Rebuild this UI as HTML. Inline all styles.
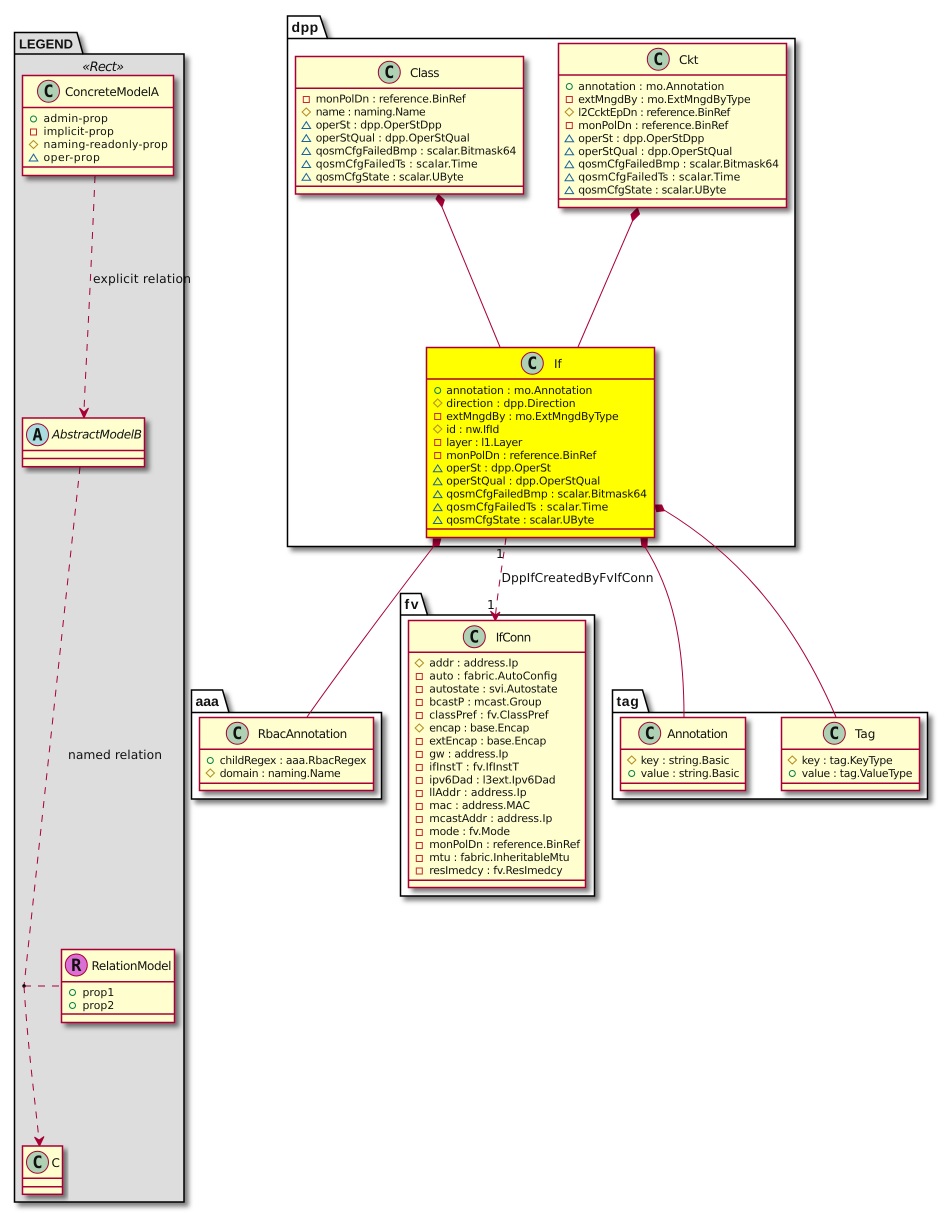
<!DOCTYPE html>
<html><head><meta charset="utf-8"><style>
html,body{margin:0;padding:0;background:#fff}
svg{display:block}
text{font-family:"DejaVu Sans","Liberation Sans",sans-serif;fill:#111;text-rendering:geometricPrecision}
.a{font-size:10.8px}
.n{font-size:12px}
.l{font-size:12.3px}
.p{font-family:"Liberation Sans",sans-serif;font-size:14px;font-weight:bold}
.sp{font-family:"DejaVu Sans Mono","Liberation Mono",monospace;font-weight:bold;font-size:17px;text-anchor:middle}
.c{fill:#FEFECE;stroke:#A80036;stroke-width:1.5}
.y{fill:#FFFF00;stroke:#A80036;stroke-width:1.5}
.dv{stroke:#A80036;stroke-width:1.5;fill:none}
.k{fill:#fff;stroke:#000;stroke-width:1.5}
.kg{fill:#DDDDDD;stroke:#000;stroke-width:1.5}
.cir{fill:#ADD1B2;stroke:#A80036;stroke-width:1}
.ln{fill:none;stroke:#A80036;stroke-width:1}
.ds{stroke-dasharray:7,7}
.hd{fill:#A80036;stroke:#A80036;stroke-width:1}
</style></head><body>
<svg xmlns="http://www.w3.org/2000/svg" width="948" height="1213" viewBox="0 0 948 1213">
<defs>
<filter id="sh" x="-10%" y="-10%" width="125%" height="125%"><feDropShadow dx="4" dy="4" stdDeviation="2.5" flood-color="#000" flood-opacity="0.5"/></filter>
<g id="o"><circle r="3" fill="none" stroke="#038048" stroke-width="1"/></g>
<g id="s"><rect x="-3" y="-3" width="6" height="6" fill="none" stroke="#C82930" stroke-width="1"/></g>
<g id="d"><polygon points="0,-4 4.2,0 0,4 -4.2,0" fill="none" stroke="#B38D22" stroke-width="1"/></g>
<g id="t"><polygon points="0,-3.8 4.3,3 -4.3,3" fill="none" stroke="#1963A0" stroke-width="1"/></g>
</defs>

<!-- packages -->
<path class="kg" filter="url(#sh)" d="M14.5,54 V32.5 H77 L83,54 H184 V1202 H14.5 Z"/>
<line x1="14.5" y1="54" x2="83" y2="54" stroke="#000" stroke-width="1.5"/>
<text class="p" x="19" y="48.5" style="font-size:13px" textLength="54">LEGEND</text>
<path class="k" filter="url(#sh)" d="M287.5,38.5 V16 H320 L327.5,38.5 H795 V546.5 H287.5 Z"/>
<line x1="287.5" y1="38.5" x2="327.5" y2="38.5" stroke="#000" stroke-width="1.5"/>
<text class="p" x="291.5" y="32" textLength="26.7">dpp</text>
<path class="k" filter="url(#sh)" d="M400.5,615 V593.5 H421 L427.5,615 H594.5 V896 H400.5 Z"/>
<line x1="400.5" y1="615" x2="427.5" y2="615" stroke="#000" stroke-width="1.5"/>
<text class="p" x="404.5" y="609" textLength="14">fv</text>
<path class="k" filter="url(#sh)" d="M191.5,712.5 V690 H222.5 L229,712.5 H381.5 V799 H191.5 Z"/>
<line x1="191.5" y1="712.5" x2="229" y2="712.5" stroke="#000" stroke-width="1.5"/>
<text class="p" x="195.5" y="706" textLength="23.3">aaa</text>
<path class="k" filter="url(#sh)" d="M612.5,712.5 V690 H642.5 L649,712.5 H927.5 V799 H612.5 Z"/>
<line x1="612.5" y1="712.5" x2="649" y2="712.5" stroke="#000" stroke-width="1.5"/>
<text class="p" x="616.5" y="706" textLength="22.3">tag</text>

<text x="82.3" y="71" style="font-size:13px;font-style:italic" textLength="41.7">«Rect»</text>

<!-- connectors -->
<path class="ln ds" d="M95,176 C89,320 85,380 84,412"/>
<polygon class="hd" points="79.5,408 84,418 88.5,408 84,412"/>
<text class="l" x="93" y="283" textLength="98">explicit relation</text>
<path class="ln ds" d="M80,467 L24,986"/>
<text class="l" x="68" y="759" textLength="94">named relation</text>
<path class="ln ds" d="M24,986 L61,986"/>
<circle cx="24" cy="986" r="1.7" fill="#000"/>
<path class="ln ds" d="M24,986 C28,1050 35,1100 39,1140"/>
<polygon class="hd" points="34.5,1137 39.5,1146 44,1136.5 39.2,1140"/>

<polygon class="hd" points="438.3,194.5 444.3,200 442,207 436,199"/>
<path class="ln" d="M442,207 L500,347"/>
<polygon class="hd" points="637.5,208 639.5,214 632.5,221 631,214.5"/>
<path class="ln" d="M632.5,221 L578,347"/>
<polygon class="hd" points="433.3,539 440.7,539 439,545.7 433,546"/>
<path class="ln" d="M434,546 C400,590 340,670 307,717"/>
<polygon class="hd" points="641,538 647.3,538 647,546.5 644,547.5 641.7,545"/>
<path class="ln" d="M645,547 C672,590 684,640 684,717"/>
<polygon class="hd" points="655,505 661.7,505 664.3,510.7 656.7,511.7"/>
<path class="ln" d="M664,510 C730,550 790,610 836,717"/>
<path class="ln ds" d="M506,538 C503,560 498,590 495.5,615"/>
<polygon class="hd" points="490.5,611 495.3,620.5 500,612 495.5,615"/>
<text class="l" x="496" y="558">1</text>
<text class="l" x="487" y="609">1</text>
<text class="l" x="501.5" y="582" textLength="152">DppIfCreatedByFvIfConn</text>

<!-- ConcreteModelA -->
<rect class="c" filter="url(#sh)" x="22.5" y="75.5" width="151" height="100"/>
<line class="dv" x1="22.5" y1="107.5" x2="173.5" y2="107.5"/><line class="dv" x1="22.5" y1="167" x2="173.5" y2="167"/>
<circle class="cir" cx="48.5" cy="91.3" r="11"/><text class="sp" x="48.5" y="97">C</text>
<text class="n" x="65" y="96" textLength="94">ConcreteModelA</text>
<use href="#o" x="33.5" y="119"/><text class="a" x="43.5" y="122" textLength="64.3">admin-prop</text>
<use href="#s" x="33.5" y="132"/><text class="a" x="43.5" y="135" textLength="70.3">implicit-prop</text>
<use href="#d" x="33.5" y="144.5"/><text class="a" x="43.5" y="148" textLength="124.3">naming-readonly-prop</text>
<use href="#t" x="33.5" y="158"/><text class="a" x="43.5" y="161" textLength="56.3">oper-prop</text>

<!-- AbstractModelB -->
<rect class="c" filter="url(#sh)" x="22.5" y="418" width="122" height="48.7"/>
<line class="dv" x1="22.5" y1="450.5" x2="144.5" y2="450.5"/><line class="dv" x1="22.5" y1="458.5" x2="144.5" y2="458.5"/>
<circle cx="37.5" cy="434.7" r="11" fill="#A9DCDF" stroke="#A80036"/><text class="sp" x="37.5" y="440.5">A</text>
<text class="n" x="52" y="438.5" style="font-style:italic" textLength="90">AbstractModelB</text>

<!-- RelationModel -->
<rect class="c" filter="url(#sh)" x="61.5" y="949.5" width="113" height="73"/>
<line class="dv" x1="61.5" y1="981.7" x2="174.5" y2="981.7"/><line class="dv" x1="61.5" y1="1014" x2="174.5" y2="1014"/>
<circle cx="76.3" cy="965" r="11" fill="#DA70D6" stroke="#A80036"/><text class="sp" x="76.3" y="971">R</text>
<text class="n" x="91.5" y="970" textLength="80">RelationModel</text>
<use href="#o" x="72.5" y="992.5"/><text class="a" x="82.5" y="996" textLength="31.7">prop1</text>
<use href="#o" x="72.5" y="1005.5"/><text class="a" x="82.5" y="1009" textLength="31.7">prop2</text>

<!-- C -->
<rect class="c" filter="url(#sh)" x="22.5" y="1146" width="40" height="48.3"/>
<line class="dv" x1="22.5" y1="1178.3" x2="62.5" y2="1178.3"/><line class="dv" x1="22.5" y1="1186.7" x2="62.5" y2="1186.7"/>
<circle class="cir" cx="37.5" cy="1162.3" r="11"/><text class="sp" x="37.5" y="1168">C</text>
<text class="n" x="51.5" y="1167">C</text>

<!-- Class -->
<rect class="c" filter="url(#sh)" x="295.5" y="56.5" width="228" height="137.5"/>
<line class="dv" x1="295.5" y1="88.3" x2="523.5" y2="88.3"/><line class="dv" x1="295.5" y1="186.3" x2="523.5" y2="186.3"/>
<circle class="cir" cx="389.3" cy="72.3" r="11"/><text class="sp" x="389.3" y="78">C</text>
<text class="n" x="410" y="77" textLength="29.5">Class</text>
<use href="#s" x="306.3" y="99.5"/><text class="a" x="315.7" y="102.7" textLength="150">monPolDn : reference.BinRef</text>
<use href="#d" x="306.3" y="112"/><text class="a" x="315.7" y="115.6" textLength="110">name : naming.Name</text>
<use href="#t" x="306.3" y="125.5"/><text class="a" x="315.7" y="128.5" textLength="126">operSt : dpp.OperStDpp</text>
<use href="#t" x="306.3" y="138.5"/><text class="a" x="315.7" y="141.5" textLength="154">operStQual : dpp.OperStQual</text>
<use href="#t" x="306.3" y="151.5"/><text class="a" x="315.7" y="154.4" textLength="200.7">qosmCfgFailedBmp : scalar.Bitmask64</text>
<use href="#t" x="306.3" y="164.5"/><text class="a" x="315.7" y="167.4" textLength="162">qosmCfgFailedTs : scalar.Time</text>
<use href="#t" x="306.3" y="177.3"/><text class="a" x="315.7" y="180.3" textLength="148">qosmCfgState : scalar.UByte</text>

<!-- Ckt -->
<rect class="c" filter="url(#sh)" x="558.5" y="43.5" width="228" height="164"/>
<line class="dv" x1="558.5" y1="75" x2="786.5" y2="75"/><line class="dv" x1="558.5" y1="199" x2="786.5" y2="199"/>
<circle class="cir" cx="658.3" cy="59.3" r="11"/><text class="sp" x="658.3" y="65">C</text>
<text class="n" x="679" y="64" textLength="19.5">Ckt</text>
<use href="#o" x="569.3" y="86.5"/><text class="a" x="578.3" y="90" textLength="146">annotation : mo.Annotation</text>
<use href="#s" x="569.3" y="99.5"/><text class="a" x="578.3" y="103" textLength="172.3">extMngdBy : mo.ExtMngdByType</text>
<use href="#d" x="569.3" y="112"/><text class="a" x="578.3" y="115.9" textLength="152">l2CcktEpDn : reference.BinRef</text>
<use href="#s" x="569.3" y="125.5"/><text class="a" x="578.3" y="128.9" textLength="150">monPolDn : reference.BinRef</text>
<use href="#t" x="569.3" y="138.8"/><text class="a" x="578.3" y="141.8" textLength="126">operSt : dpp.OperStDpp</text>
<use href="#t" x="569.3" y="151.8"/><text class="a" x="578.3" y="154.8" textLength="154">operStQual : dpp.OperStQual</text>
<use href="#t" x="569.3" y="164.7"/><text class="a" x="578.3" y="167.7" textLength="200.7">qosmCfgFailedBmp : scalar.Bitmask64</text>
<use href="#t" x="569.3" y="177.7"/><text class="a" x="578.3" y="180.7" textLength="162">qosmCfgFailedTs : scalar.Time</text>
<use href="#t" x="569.3" y="190.6"/><text class="a" x="578.3" y="193.6" textLength="148">qosmCfgState : scalar.UByte</text>

<!-- If -->
<rect class="y" filter="url(#sh)" x="426.5" y="347.5" width="228" height="190"/>
<line class="dv" x1="426.5" y1="379" x2="654.5" y2="379"/><line class="dv" x1="426.5" y1="529" x2="654.5" y2="529"/>
<circle class="cir" cx="532.3" cy="363.3" r="11"/><text class="sp" x="532.3" y="369">C</text>
<text class="n" x="554" y="368">If</text>
<use href="#o" x="437.7" y="390.5"/><text class="a" x="446.3" y="394" textLength="146">annotation : mo.Annotation</text>
<use href="#d" x="437.7" y="403"/><text class="a" x="446.3" y="407" textLength="129.3">direction : dpp.Direction</text>
<use href="#s" x="437.7" y="416.5"/><text class="a" x="446.3" y="419.9" textLength="172.3">extMngdBy : mo.ExtMngdByType</text>
<use href="#d" x="437.7" y="429"/><text class="a" x="446.3" y="432.9" textLength="53">id : nw.IfId</text>
<use href="#s" x="437.7" y="442.5"/><text class="a" x="446.3" y="445.8" textLength="76">layer : l1.Layer</text>
<use href="#s" x="437.7" y="455.5"/><text class="a" x="446.3" y="458.8" textLength="150">monPolDn : reference.BinRef</text>
<use href="#t" x="437.7" y="468.7"/><text class="a" x="446.3" y="471.7" textLength="104.7">operSt : dpp.OperSt</text>
<use href="#t" x="437.7" y="481.7"/><text class="a" x="446.3" y="484.7" textLength="154">operStQual : dpp.OperStQual</text>
<use href="#t" x="437.7" y="494.6"/><text class="a" x="446.3" y="497.6" textLength="200.7">qosmCfgFailedBmp : scalar.Bitmask64</text>
<use href="#t" x="437.7" y="507.6"/><text class="a" x="446.3" y="510.6" textLength="162">qosmCfgFailedTs : scalar.Time</text>
<use href="#t" x="437.7" y="520.5"/><text class="a" x="446.3" y="523.5" textLength="148">qosmCfgState : scalar.UByte</text>

<!-- IfConn -->
<rect class="c" filter="url(#sh)" x="408.5" y="620.5" width="177" height="267"/>
<line class="dv" x1="408.5" y1="652.3" x2="585.5" y2="652.3"/><line class="dv" x1="408.5" y1="880.3" x2="585.5" y2="880.3"/>
<circle class="cir" cx="474.3" cy="636.7" r="11"/><text class="sp" x="474.3" y="642.5">C</text>
<text class="n" x="495.7" y="641.5" textLength="35.5">IfConn</text>
<use href="#d" x="419.3" y="663"/><text class="a" x="429.3" y="666.7" textLength="89">addr : address.Ip</text>
<use href="#s" x="419.3" y="676.5"/><text class="a" x="429.3" y="679.7" textLength="128">auto : fabric.AutoConfig</text>
<use href="#s" x="419.3" y="689.5"/><text class="a" x="429.3" y="692.6" textLength="128.3">autostate : svi.Autostate</text>
<use href="#s" x="419.3" y="702.5"/><text class="a" x="429.3" y="705.6" textLength="112.3">bcastP : mcast.Group</text>
<use href="#s" x="419.3" y="715.5"/><text class="a" x="429.3" y="718.5" textLength="119.3">classPref : fv.ClassPref</text>
<use href="#d" x="419.3" y="728"/><text class="a" x="429.3" y="731.5" textLength="100">encap : base.Encap</text>
<use href="#s" x="419.3" y="741.5"/><text class="a" x="429.3" y="744.4" textLength="117">extEncap : base.Encap</text>
<use href="#s" x="419.3" y="754.5"/><text class="a" x="429.3" y="757.4" textLength="79">gw : address.Ip</text>
<use href="#s" x="419.3" y="767.5"/><text class="a" x="429.3" y="770.3" textLength="89.7">ifInstT : fv.IfInstT</text>
<use href="#s" x="419.3" y="780.5"/><text class="a" x="429.3" y="783.3" textLength="126.3">ipv6Dad : l3ext.Ipv6Dad</text>
<use href="#s" x="419.3" y="793.5"/><text class="a" x="429.3" y="796.2" textLength="97.3">llAddr : address.Ip</text>
<use href="#s" x="419.3" y="806.5"/><text class="a" x="429.3" y="809.2" textLength="100.7">mac : address.MAC</text>
<use href="#s" x="419.3" y="819.5"/><text class="a" x="429.3" y="822.1" textLength="123">mcastAddr : address.Ip</text>
<use href="#s" x="419.3" y="832.5"/><text class="a" x="429.3" y="835.1" textLength="80.7">mode : fv.Mode</text>
<use href="#s" x="419.3" y="845.5"/><text class="a" x="429.3" y="848" textLength="150.7">monPolDn : reference.BinRef</text>
<use href="#s" x="419.3" y="858.5"/><text class="a" x="429.3" y="861" textLength="140.3">mtu : fabric.InheritableMtu</text>
<use href="#s" x="419.3" y="871"/><text class="a" x="429.3" y="873.9" textLength="133.3">resImedcy : fv.ResImedcy</text>

<!-- RbacAnnotation -->
<rect class="c" filter="url(#sh)" x="199.5" y="717.5" width="174" height="73"/>
<line class="dv" x1="199.5" y1="749.3" x2="373.5" y2="749.3"/><line class="dv" x1="199.5" y1="783.3" x2="373.5" y2="783.3"/>
<circle class="cir" cx="237.3" cy="733.3" r="11"/><text class="sp" x="237.3" y="739">C</text>
<text class="n" x="257.7" y="738" textLength="89.5">RbacAnnotation</text>
<use href="#o" x="210.3" y="760.5"/><text class="a" x="219.7" y="764" textLength="146.7">childRegex : aaa.RbacRegex</text>
<use href="#d" x="210.3" y="773"/><text class="a" x="219.7" y="777" textLength="121">domain : naming.Name</text>

<!-- Annotation -->
<rect class="c" filter="url(#sh)" x="620.5" y="717.5" width="125" height="73"/>
<line class="dv" x1="620.5" y1="749.3" x2="745.5" y2="749.3"/><line class="dv" x1="620.5" y1="783.3" x2="745.5" y2="783.3"/>
<circle class="cir" cx="649.7" cy="733.3" r="11"/><text class="sp" x="649.7" y="739">C</text>
<text class="n" x="667.3" y="738" textLength="60.7">Annotation</text>
<use href="#d" x="631.7" y="760"/><text class="a" x="640.7" y="764" textLength="88.7">key : string.Basic</text>
<use href="#o" x="631.7" y="773.5"/><text class="a" x="640.7" y="777" textLength="98.7">value : string.Basic</text>

<!-- Tag -->
<rect class="c" filter="url(#sh)" x="781.5" y="717.5" width="138" height="73"/>
<line class="dv" x1="781.5" y1="749.3" x2="919.5" y2="749.3"/><line class="dv" x1="781.5" y1="783.3" x2="919.5" y2="783.3"/>
<circle class="cir" cx="834.3" cy="733.3" r="11"/><text class="sp" x="834.3" y="739">C</text>
<text class="n" x="855" y="738">Tag</text>
<use href="#d" x="792.3" y="760"/><text class="a" x="801.7" y="764" textLength="91">key : tag.KeyType</text>
<use href="#o" x="792.3" y="773.5"/><text class="a" x="801.7" y="777" textLength="110.7">value : tag.ValueType</text>
</svg>
</body></html>
